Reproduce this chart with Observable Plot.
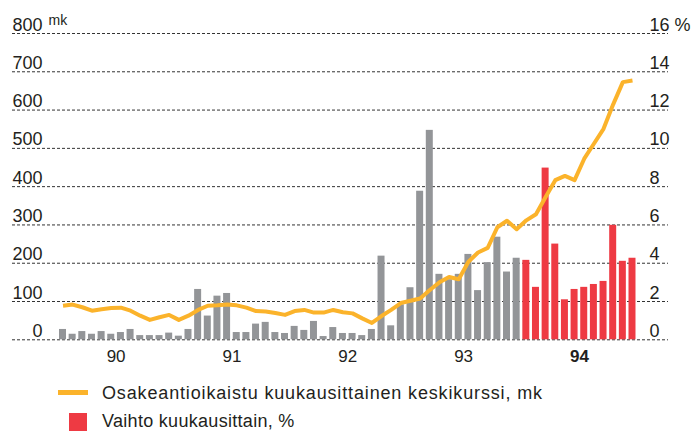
<!DOCTYPE html>
<html>
<head>
<meta charset="utf-8">
<script src="https://cdn.jsdelivr.net/npm/d3@7"></script>
<script src="https://cdn.jsdelivr.net/npm/@observablehq/plot@0.6"></script>
<style>
  html, body { margin: 0; padding: 0; background: #fff; }
  body { width: 693px; height: 433px; overflow: hidden; font-family: "Liberation Sans", Arial, sans-serif; color: #231f20; }
  #chart svg { display: block; }
  #legend { position: relative; width: 693px; height: 61px; font-size: 18px; letter-spacing: 0.3px; }
  #legend .sw-line { position: absolute; left: 58px; top: 17.5px; width: 30px; height: 5px; background: #fbb32b; }
  #legend .sw-box { position: absolute; left: 69px; top: 41px; width: 18px; height: 18px; background: #ee3a43; }
  #legend .lbl { position: absolute; left: 102px; line-height: 18px; white-space: nowrap; }
  #legend #l1 { letter-spacing: 0.85px; }
</style>
</head>
<body>
<div id="chart"></div>
<div id="legend">
  <div class="sw-line"></div><div class="lbl" id="l1" style="top:11.8px"></div>
  <div class="sw-box"></div><div class="lbl" id="l2" style="top:39.8px"></div>
</div>
<script>
// Year tick labels (x axis), one per calendar year 1990–1994
const years = ["90", "91", "92", "93", "94"];
const boldYear = "94";

// Monthly average share price, mk (Jan 1990 – Dec 1994)
const price = [
  89, 92, 85, 76, 80, 83, 84, 76, 63, 52, 59, 65,
  52, 63, 78, 89, 90, 92, 90, 84, 75, 74, 70, 65,
  75, 78, 71, 71, 78, 72, 69, 56, 44, 62, 78, 96,
  102, 108, 130, 150, 164, 158, 204, 228, 240, 294, 311, 289,
  312, 328, 373, 417, 428, 417, 473, 512, 551, 615, 673, 677
];

// Monthly turnover, % (Jan 1990 – Dec 1994)
const turnover = [
  0.54, 0.29, 0.43, 0.29, 0.43, 0.29, 0.38, 0.54, 0.22, 0.22, 0.22, 0.35,
  0.19, 0.54, 2.63, 1.24, 2.28, 2.42, 0.38, 0.38, 0.82, 0.91, 0.38, 0.33,
  0.70, 0.49, 0.96, 0.17, 0.64, 0.33, 0.33, 0.22, 0.54, 4.37, 0.73, 1.83,
  2.72, 7.76, 10.94, 3.42, 3.14, 3.42, 4.46, 2.57, 4.03, 5.36, 3.54, 4.26,
  4.15, 2.74, 8.97, 5.00, 2.09, 2.63, 2.74, 2.89, 3.05, 5.98, 4.10, 4.26
];

// Axis tick labels
const leftTicks = [0, 100, 200, 300, 400, 500, 600, 700, 800];
const rightTicks = [0, 2, 4, 6, 8, 10, 12, 14, 16];
const leftUnit = "mk";
const rightUnit = "%";

const legendLine = "Osakeantioikaistu kuukausittainen keskikurssi, mk";
const legendBar = "Vaihto kuukausittain, %";

// Colours
const GRAY = "#939598", RED = "#ee3a43", YELLOW = "#fbb32b", INK = "#231f20";

// Build table (month index i, 0 = Jan 1990); 1994 is highlighted
const rows = price.map((p, i) => ({ i, price: p, pct: turnover[i], year: 1990 + Math.floor(i / 12) }));
const yearRows = years.map((label, k) => ({ label, mid: k * 12 + 5.5 }));

const PCT_TO_MK = 800 / 16;
const FONT = "Liberation Sans, Arial, sans-serif";

const chart = Plot.plot({
  width: 693,
  height: 372,
  marginLeft: 12,
  marginRight: 25,
  marginTop: 33,
  marginBottom: 32.7,
  style: { fontFamily: FONT, color: INK, background: "#fff", overflow: "visible" },
  x: { type: "linear", domain: [-5.232, 62.73], axis: null },
  y: { type: "linear", domain: [0, 800], axis: null },
  marks: [
    Plot.ruleY(leftTicks, { y: d => d, stroke: "#333", strokeWidth: 1, strokeDasharray: "3,2" }),
    Plot.rectY(rows.filter(d => d.year < 1994), {
      x1: d => d.i - 0.5, x2: d => d.i + 0.5, y1: 0, y2: d => d.pct * PCT_TO_MK,
      fill: GRAY, insetLeft: 1.33, insetRight: 1.33
    }),
    Plot.rectY(rows.filter(d => d.year === 1994), {
      x1: d => d.i - 0.5, x2: d => d.i + 0.5, y1: 0, y2: d => d.pct * PCT_TO_MK,
      fill: RED, insetLeft: 1.33, insetRight: 1.33
    }),
    Plot.line(rows, { x: "i", y: "price", stroke: YELLOW, strokeWidth: 4, strokeLinejoin: "round", strokeLinecap: "butt" }),
    // left axis labels
    Plot.text(leftTicks, {
      y: d => d, text: d => String(d), frameAnchor: "left", dx: 30,
      textAnchor: "end", lineAnchor: "bottom", dy: -3, fontSize: 18, fill: INK
    }),
    Plot.text([leftUnit], {
      y: () => 800, text: d => d, frameAnchor: "left", dx: 36,
      textAnchor: "start", lineAnchor: "bottom", dy: -9, fontSize: 14, fill: INK
    }),
    // right axis labels
    Plot.text(rightTicks, {
      y: d => d * PCT_TO_MK, text: d => d === 16 ? `${d} ${rightUnit}` : String(d),
      frameAnchor: "right", dx: -19, textAnchor: "start", lineAnchor: "bottom", dy: -3, fontSize: 18, fill: INK
    }),
    // year labels
    Plot.text(yearRows.filter(d => d.label !== boldYear), {
      x: "mid", text: "label", frameAnchor: "bottom", lineAnchor: "bottom", dy: 22.5, fontSize: 17, fill: INK
    }),
    Plot.text(yearRows.filter(d => d.label === boldYear), {
      x: "mid", text: "label", frameAnchor: "bottom", lineAnchor: "bottom", dy: 22.5, fontSize: 17, fontWeight: "bold", fill: INK
    })
  ]
});
document.getElementById("chart").appendChild(chart);
document.getElementById("l1").textContent = legendLine;
document.getElementById("l2").textContent = legendBar;
</script>
</body>
</html>
